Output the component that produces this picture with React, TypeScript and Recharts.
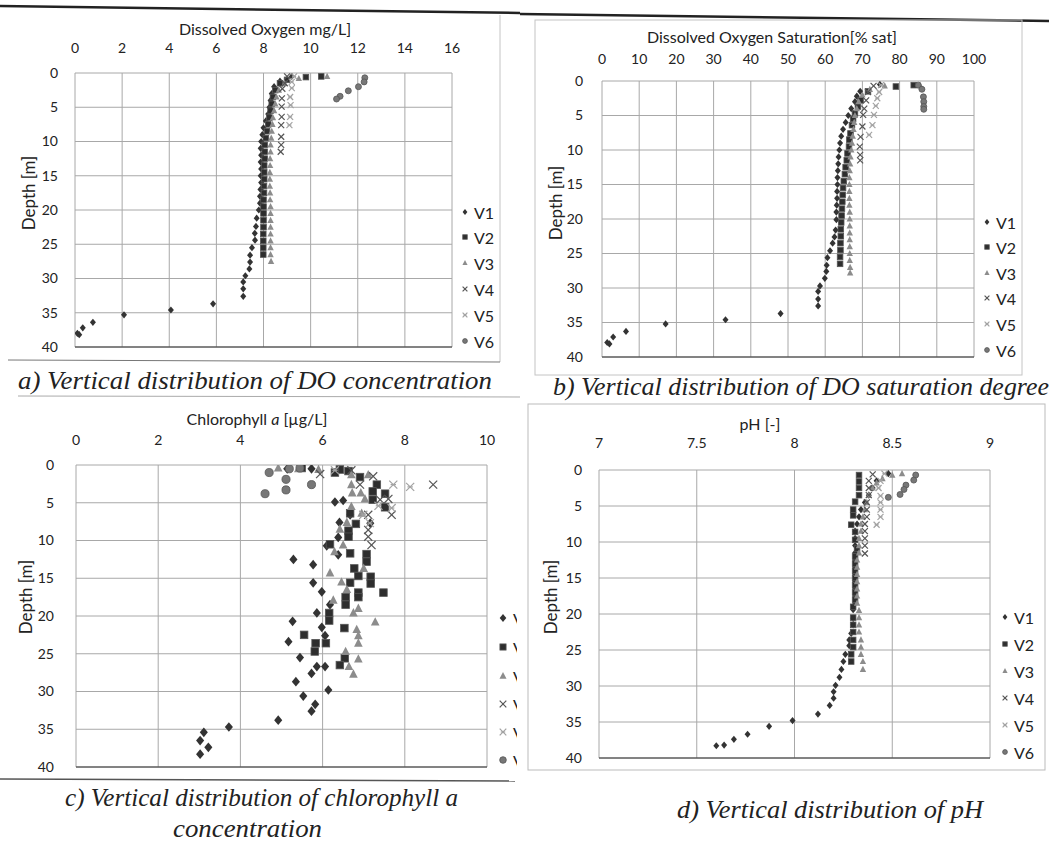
import React from 'react'
import { CartesianGrid, ReferenceLine, Scatter, ScatterChart, XAxis, YAxis } from 'recharts'

// [value, depth]
type Pt = [number, number]

const seriesNames = ['V1', 'V2', 'V3', 'V4', 'V5', 'V6']
const depthTicks = [0, 5, 10, 15, 20, 25, 30, 35, 40]
const doTicks = [0, 2, 4, 6, 8, 10, 12, 14, 16]
const satTicks = [0, 10, 20, 30, 40, 50, 60, 70, 80, 90, 100]
const chlTicks = [0, 2, 4, 6, 8, 10]
const phTicks = [7, 7.5, 8, 8.5, 9]

// a) dissolved oxygen mg/L
const doV1: Pt[] = [[9.2, 0.5], [8.7, 1.2], [8.45, 2], [8.35, 3], [8.3, 4], [8.25, 5], [8.2, 6], [8.1, 7], [8.0, 8], [7.95, 9], [7.9, 10], [7.88, 11], [7.9, 12], [7.88, 13], [7.9, 14], [7.88, 15], [7.9, 16], [7.87, 17], [7.85, 18], [7.85, 19], [7.8, 20], [7.71, 21.2], [7.68, 22.4], [7.63, 23.4], [7.64, 24.4], [7.51, 25.5], [7.43, 26.6], [7.43, 27.6], [7.4, 28.6], [7.23, 29.6], [7.14, 30.5], [7.14, 31.5], [7.14, 32.6], [5.86, 33.7], [4.07, 34.6], [2.08, 35.3], [0.76, 36.4], [0.33, 37.2], [0.1, 38.0], [0.18, 38.2]]
const doV2: Pt[] = [[10.45, 0.5], [9.8, 0.6], [9.0, 1.0], [8.7, 1.5], [8.5, 2.5], [8.4, 3.5], [8.35, 4.5], [8.3, 5.5], [8.25, 6.5], [8.2, 7.5], [8.15, 8.5], [8.1, 9.5], [8.05, 10.5], [8.05, 11.5], [8.05, 12.5], [8.03, 13.5], [8.03, 14.5], [8.03, 15.5], [8.02, 16.5], [8.02, 17.5], [8.0, 18.5], [8.0, 19.5], [8.0, 20.5], [8.0, 21.5], [8.0, 22.5], [7.99, 23.5], [7.99, 24.5], [7.99, 25.5], [7.99, 26.5]]
const doV3: Pt[] = [[10.7, 0.5], [9.5, 0.8], [8.9, 1.5], [8.65, 2.5], [8.55, 3.5], [8.5, 4.5], [8.45, 5.5], [8.4, 6.5], [8.38, 7.5], [8.35, 8.5], [8.33, 9.5], [8.3, 10.5], [8.3, 11.5], [8.28, 12.5], [8.28, 13.5], [8.27, 14.5], [8.27, 15.5], [8.27, 16.5], [8.28, 17.5], [8.28, 18.5], [8.3, 19.5], [8.3, 20.5], [8.3, 21.5], [8.3, 22.5], [8.3, 23.5], [8.3, 24.5], [8.3, 25.5], [8.3, 26.5], [8.32, 27.5]]
const doV4: Pt[] = [[9.0, 0.5], [8.9, 1.5], [8.8, 2.3], [8.78, 3.7], [8.77, 4.9], [8.77, 6.4], [8.75, 7.6], [8.75, 9.3], [8.75, 10.5], [8.73, 11.5]]
const doV5: Pt[] = [[9.3, 0.5], [9.2, 1.3], [9.2, 2.2], [9.13, 3.5], [9.15, 4.7], [9.13, 6.4], [9.1, 7.6]]
const doV6: Pt[] = [[12.3, 0.7], [12.27, 1.3], [12.03, 2.0], [11.6, 2.6], [11.25, 3.4], [11.1, 3.8]]

// b) dissolved oxygen saturation %
const satV1: Pt[] = [[74.7, 0.5], [69.4, 1.5], [68.5, 2.2], [68, 3], [67, 4], [66.2, 5], [65.5, 6], [64.8, 7], [64.3, 8], [64, 9], [63.8, 10], [63.6, 11], [63.5, 12], [63.4, 13], [63.3, 14], [63.3, 15], [63.2, 16], [63.2, 17], [63.1, 18], [63, 19], [63, 20.1], [62.8, 21.6], [62.5, 22.6], [62, 23.5], [61.3, 24.6], [60.6, 25.6], [60.4, 26.7], [60.3, 27.6], [59.9, 28.6], [58.6, 29.7], [58.1, 30.5], [58.1, 31.6], [58.1, 32.6], [48, 33.7], [33.2, 34.6], [17.1, 35.2], [6.45, 36.3], [3.0, 37.1], [1.4, 37.9], [2.0, 38.1]]
const satV2: Pt[] = [[83.8, 0.6], [79, 0.8], [71.5, 1.5], [69.5, 2.8], [68.8, 3.7], [68, 4.7], [67.5, 5.5], [67.2, 6.4], [66.8, 7.6], [66.5, 8.5], [66.4, 9.5], [66, 10.5], [65.8, 11.5], [65.5, 12.5], [65.3, 13.5], [65, 14.5], [64.8, 15.5], [64.7, 16.5], [64.6, 17.5], [64.5, 18.5], [64.4, 19.5], [64.3, 20.5], [64.2, 21.5], [64.2, 22.5], [64.1, 23.5], [64.1, 24.5], [64, 25.5], [64, 26.5]]
const satV3: Pt[] = [[85.5, 0.6], [76, 0.7], [72, 1.2], [70, 2], [69, 3], [68.5, 4], [68, 5], [67.8, 6], [67.6, 7], [67.4, 8], [67.2, 9], [67, 10], [66.8, 11], [66.7, 12], [66.6, 13], [66.5, 14], [66.5, 15], [66.5, 16], [66.5, 17], [66.5, 18], [66.6, 19], [66.6, 20], [66.6, 21], [66.6, 22], [66.6, 23], [66.6, 24], [66.6, 25], [66.6, 26], [66.7, 27], [66.7, 27.8]]
const satV4: Pt[] = [[73, 0.7], [71.5, 1.6], [71, 2.8], [70.5, 4], [70.2, 4.9], [70, 6.6], [69.5, 8.1], [69.3, 9.5], [69.4, 10.7], [69.4, 11.5]]
const satV5: Pt[] = [[75, 0.6], [74.5, 1.6], [74, 2.5], [73.6, 3.6], [73.1, 4.9], [72.7, 6.4], [71.8, 7.8]]
const satV6: Pt[] = [[85, 0.6], [86, 1.2], [86.4, 2.3], [86.5, 3.0], [86.5, 3.7], [86.5, 4.1]]

// c) chlorophyll a µg/L
const chlV1: Pt[] = [[5.14, 0.5], [5.73, 0.5], [6.3, 4.9], [6.5, 4.7], [6.67, 6.6], [7.16, 7.7], [6.41, 7.6], [6.38, 9.6], [6.1, 10.7], [6.38, 11.9], [5.29, 12.5], [5.77, 13.2], [5.77, 15.6], [5.98, 16.8], [6.18, 18.5], [5.86, 19.6], [5.27, 20.7], [5.98, 21.5], [6.06, 22.6], [5.17, 23.4], [5.45, 25.5], [5.86, 26.7], [6.06, 26.7], [5.73, 27.6], [5.35, 28.7], [6.14, 29.8], [5.53, 30.6], [5.82, 31.7], [5.73, 32.6], [4.92, 33.8], [3.72, 34.7], [3.11, 35.4], [3.02, 36.5], [3.22, 37.4], [3.02, 38.3]]
const chlV2: Pt[] = [[5.49, 0.4], [6.42, 0.6], [6.3, 1.0], [6.63, 0.8], [6.91, 1.6], [7.32, 2.6], [7.22, 3.5], [7.52, 3.8], [7.22, 4.6], [7.52, 5.6], [6.67, 6.4], [6.81, 7.8], [6.63, 8.7], [6.63, 9.5], [6.18, 10.5], [6.67, 11.7], [7.07, 11.8], [7.07, 12.8], [6.77, 13.7], [6.87, 14.7], [7.17, 14.8], [7.17, 15.7], [6.67, 15.6], [7.48, 16.9], [6.87, 16.9], [6.56, 17.5], [6.87, 17.5], [6.56, 18.5], [6.16, 19.6], [6.16, 20.6], [6.53, 21.6], [5.55, 22.5], [5.83, 23.6], [6.08, 23.6], [5.81, 24.7], [6.54, 25.6], [6.42, 26.5]]
const chlV3: Pt[] = [[4.92, 0.4], [5.41, 0.5], [5.9, 0.6], [6.7, 1.3], [7.11, 1.3], [6.7, 2.6], [6.72, 3.7], [6.93, 3.7], [7.03, 4.5], [6.7, 5.5], [6.95, 6.4], [6.59, 7.6], [6.42, 8.5], [6.5, 10.6], [6.29, 11.5], [7.0, 13.7], [6.18, 14.3], [6.46, 15.5], [6.59, 16.5], [6.26, 17.9], [6.87, 19.0], [6.75, 19.6], [7.28, 20.8], [6.83, 21.8], [6.87, 22.6], [6.87, 23.6], [6.56, 24.7], [6.87, 25.7], [6.64, 26.7], [6.75, 27.7]]
const chlV4: Pt[] = [[6.7, 0.7], [5.94, 1.2], [7.23, 1.5], [6.91, 2.6], [8.69, 2.6], [7.4, 4.6], [7.6, 4.5], [7.68, 6.6], [7.11, 6.6], [7.11, 8.6], [7.11, 9.5], [7.19, 10.6]]
const chlV5: Pt[] = [[6.3, 0.7], [7.72, 2.6], [8.13, 2.9], [7.36, 5.4], [7.68, 5.7], [6.99, 6.6], [7.15, 7.7]]
const chlV6: Pt[] = [[4.7, 1.0], [5.11, 1.9], [5.11, 3.3], [4.6, 3.8], [5.73, 2.6], [5.19, 0.5], [5.45, 0.4]]

// d) pH
const phV1: Pt[] = [[8.48, 0.5], [8.42, 1.5], [8.4, 2.5], [8.38, 3.5], [8.36, 4.5], [8.34, 5.5], [8.33, 6.5], [8.32, 7.5], [8.31, 8.5], [8.31, 9.5], [8.31, 10.5], [8.31, 11.5], [8.31, 12.5], [8.31, 13.5], [8.31, 14.5], [8.31, 15.5], [8.31, 16.5], [8.31, 17.5], [8.31, 18.5], [8.3, 19.4], [8.3, 20.6], [8.3, 21.5], [8.29, 22.7], [8.28, 23.6], [8.28, 24.4], [8.26, 25.6], [8.25, 26.6], [8.24, 27.7], [8.23, 28.8], [8.21, 29.9], [8.2, 30.8], [8.2, 31.7], [8.18, 32.7], [8.12, 33.9], [7.99, 34.8], [7.87, 35.6], [7.76, 36.7], [7.69, 37.4], [7.64, 38.2], [7.6, 38.3]]
const phV2: Pt[] = [[8.33, 0.7], [8.33, 1.6], [8.33, 2.5], [8.33, 3.5], [8.31, 4.4], [8.3, 5.5], [8.3, 6.3], [8.29, 7.6], [8.31, 8.6], [8.31, 9.7], [8.32, 10.9], [8.31, 12], [8.31, 13], [8.31, 14], [8.31, 15], [8.31, 16], [8.31, 17], [8.31, 18], [8.3, 19], [8.3, 20.5], [8.3, 21.5], [8.3, 22.5], [8.3, 23.6], [8.3, 24.6], [8.29, 25.6], [8.29, 26.6]]
const phV3: Pt[] = [[8.55, 0.5], [8.5, 0.7], [8.45, 1.2], [8.42, 1.8], [8.4, 2.5], [8.38, 3.5], [8.37, 4.5], [8.36, 5.5], [8.35, 6.5], [8.34, 7.5], [8.34, 8.5], [8.33, 9.5], [8.33, 10.5], [8.33, 11.5], [8.32, 12.5], [8.32, 13.5], [8.32, 14.5], [8.32, 15.5], [8.32, 16.5], [8.32, 17.5], [8.32, 18.5], [8.33, 19.5], [8.33, 20.5], [8.33, 21.5], [8.33, 22.5], [8.34, 23.6], [8.34, 24.6], [8.34, 25.6], [8.35, 26.6], [8.35, 27.7]]
const phV4: Pt[] = [[8.4, 0.6], [8.38, 1.5], [8.38, 2.5], [8.38, 3.5], [8.37, 4.5], [8.37, 5.5], [8.37, 6.5], [8.36, 7.5], [8.36, 8.5], [8.36, 9.5], [8.36, 10.5], [8.36, 11.6]]
const phV5: Pt[] = [[8.46, 0.5], [8.44, 1.5], [8.43, 2.5], [8.44, 3.6], [8.44, 4.5], [8.44, 5.5], [8.44, 6.5], [8.42, 7.6]]
const phV6: Pt[] = [[8.62, 0.7], [8.61, 1.4], [8.57, 2.1], [8.56, 2.7], [8.54, 3.4], [8.48, 3.8]]

const markerKinds = ['diamond', 'square', 'triangle', 'cross', 'xlight', 'circle']
const tickFont = 'Lato, "Open Sans", sans-serif'
const captionFont = '"Liberation Serif", "DejaVu Serif", serif'

const toPoints = (arr: Pt[]) => arr.map(([x, y]) => ({ x, y }))

function Marker({ kind, cx, cy, s }: { kind: string; cx: number; cy: number; s: number }) {
  if (cx == null || cy == null) return null
  switch (kind) {
    case 'diamond':
      return <polygon points={`${cx},${cy - 3.6 * s} ${cx + 3 * s},${cy} ${cx},${cy + 3.6 * s} ${cx - 3 * s},${cy}`} fill="#333" />
    case 'square':
      return <rect x={cx - 2.8 * s} y={cy - 2.8 * s} width={5.6 * s} height={5.6 * s} fill="#2e2e2e" stroke="#555" strokeWidth={0.8} />
    case 'triangle':
      return <polygon points={`${cx},${cy - 3.6 * s} ${cx + 3.2 * s},${cy + 2.6 * s} ${cx - 3.2 * s},${cy + 2.6 * s}`} fill="#8c8c8c" />
    case 'cross':
      return (
        <g stroke="#555" strokeWidth={1.2}>
          <line x1={cx - 3 * s} y1={cy - 3 * s} x2={cx + 3 * s} y2={cy + 3 * s} />
          <line x1={cx - 3 * s} y1={cy + 3 * s} x2={cx + 3 * s} y2={cy - 3 * s} />
        </g>
      )
    case 'xlight':
      return (
        <g stroke="#a2a2a2" strokeWidth={1.2}>
          <line x1={cx - 3 * s} y1={cy - 3 * s} x2={cx + 3 * s} y2={cy + 3 * s} />
          <line x1={cx - 3 * s} y1={cy + 3 * s} x2={cx + 3 * s} y2={cy - 3 * s} />
          <line x1={cx - 2 * s} y1={cy} x2={cx + 2 * s} y2={cy} />
        </g>
      )
    default:
      return <circle cx={cx} cy={cy} r={3 * s} fill="#777" stroke="#555" strokeWidth={0.8} />
  }
}

interface PanelProps {
  l: number
  r: number
  t: number
  b: number
  domain: [number, number]
  ticks: number[]
  series: Pt[][]
  xTickMargin: number
  yTickMargin: number
  s: number
}

// plot area is placed at page coords l..r, t..b
const Panel: React.FC<PanelProps> = ({ l, r, t, b, domain, ticks, series, xTickMargin, yTickMargin, s }) => {
  const w = r - l + 70 + 26
  const h = b - t + 60 + 20
  return (
    <div style={{ position: 'absolute', left: l - 70, top: t - 60 }}>
      <ScatterChart width={w} height={h} margin={{ top: 0, left: 0, right: 26, bottom: 20 }}>
        <CartesianGrid stroke="#a8a8a8" />
        <XAxis
          type="number"
          dataKey="x"
          orientation="top"
          domain={domain}
          ticks={ticks}
          interval={0}
          height={60}
          axisLine={false}
          tickLine={false}
          tickSize={0}
          tickMargin={xTickMargin}
          allowDataOverflow
          tick={{ fill: '#222', fontSize: 14, fontFamily: tickFont }}
        />
        <YAxis
          type="number"
          dataKey="y"
          reversed
          domain={[0, 40]}
          ticks={depthTicks}
          interval={0}
          width={70}
          axisLine={false}
          tickLine={false}
          tickSize={0}
          tickMargin={yTickMargin}
          allowDataOverflow
          tick={{ fill: '#222', fontSize: 14, fontFamily: tickFont }}
        />
        <ReferenceLine y={40} stroke="#333" strokeWidth={1.2} />
        {series.map((d, i) => (
          <Scatter
            key={seriesNames[i]}
            name={seriesNames[i]}
            data={toPoints(d)}
            isAnimationActive={false}
            shape={(p: any) => <Marker kind={markerKinds[i]} cx={p.cx} cy={p.cy} s={s} />}
          />
        ))}
      </ScatterChart>
    </div>
  )
}

const LegendBox: React.FC<{ mx: number; tx: number; ys: number[]; s: number; clip?: string }> = ({ mx, tx, ys, s, clip }) => (
  <g>
    {ys.map((y, i) => (
      <g key={seriesNames[i]}>
        <Marker kind={markerKinds[i]} cx={mx} cy={y} s={s} />
        <text x={tx} y={y} dominantBaseline="central" fontSize={16} fontFamily={tickFont} fill="#222" clipPath={clip}>
          {seriesNames[i]}
        </text>
      </g>
    ))}
  </g>
)

const DepthLabel: React.FC<{ x: number; y: number }> = ({ x, y }) => (
  <text transform={`translate(${x},${y}) rotate(-90)`} textAnchor="middle" dominantBaseline="central" fontSize={17} fontFamily={tickFont} fill="#222">
    Depth [m]
  </text>
)

export default function App() {
  return (
    <div style={{ position: 'absolute', left: 0, top: 0, width: 1049, height: 843, background: '#fff', overflow: 'hidden' }}>
      <Panel l={75} r={452} t={73} b={347} domain={[0, 16]} ticks={doTicks} series={[doV1, doV2, doV3, doV4, doV5, doV6]} xTickMargin={20} yTickMargin={17} s={1} />
      <Panel l={602} r={974} t={81} b={357} domain={[0, 100]} ticks={satTicks} series={[satV1, satV2, satV3, satV4, satV5, satV6]} xTickMargin={17} yTickMargin={19} s={1} />
      <Panel l={76} r={487} t={465} b={767} domain={[0, 10]} ticks={chlTicks} series={[chlV1, chlV2, chlV3, chlV4, chlV5, chlV6]} xTickMargin={20} yTickMargin={22} s={1.35} />
      <Panel l={599} r={990} t={470} b={758} domain={[7, 9]} ticks={phTicks} series={[phV1, phV2, phV3, phV4, phV5, phV6]} xTickMargin={22} yTickMargin={17} s={1} />

      <svg width={1049} height={843} style={{ position: 'absolute', left: 0, top: 0, pointerEvents: 'none' }}>
        <defs>
          <clipPath id="legendClipC">
            <rect x={0} y={590} width={517} height={200} />
          </clipPath>
        </defs>
        {/* scan edges and frames */}
        <line x1={0} y1={6} x2={520} y2={13} stroke="#222" strokeWidth={2.5} />
        <line x1={520} y1={14} x2={1049} y2={21} stroke="#222" strokeWidth={2.5} />
        <line x1={500} y1={15} x2={500} y2={362} stroke="#c4c4c4" />
        <line x1={8} y1={360} x2={500} y2={362} stroke="#777" />
        <line x1={18} y1={396} x2={520} y2={397} stroke="#aaa" />
        <rect x={535} y={20} width={487} height={355} fill="none" stroke="#c4c4c4" />
        <line x1={0} y1={779} x2={515} y2={781} stroke="#555" strokeWidth={1.3} />
        <rect x={528} y={404} width={517} height={366} fill="none" stroke="#bbb" />

        {/* axis titles */}
        <text x={265} y={35} textAnchor="middle" fontSize={16} fontFamily={tickFont} fill="#222">Dissolved Oxygen mg/L]</text>
        <text x={772} y={43} textAnchor="middle" fontSize={16} fontFamily={tickFont} fill="#222">Dissolved Oxygen Saturation[% sat]</text>
        <text x={257} y={425} textAnchor="middle" fontSize={16} fontFamily={tickFont} fill="#222">
          Chlorophyll <tspan fontStyle="italic">a</tspan> [µg/L]
        </text>
        <text x={760} y={430} textAnchor="middle" fontSize={16} fontFamily={tickFont} fill="#222">pH [-]</text>
        <DepthLabel x={28} y={193} />
        <DepthLabel x={555} y={203} />
        <DepthLabel x={25} y={597} />
        <DepthLabel x={550} y={597} />

        {/* legends */}
        <LegendBox mx={465} tx={474} ys={[212, 237, 263, 289, 315, 341]} s={0.8} />
        <LegendBox mx={987} tx={996} ys={[222, 247, 273, 298, 324, 350]} s={0.8} />
        <LegendBox mx={503} tx={513} ys={[618, 647, 676, 704, 732, 760]} s={1.1} clip="url(#legendClipC)" />
        <LegendBox mx={1005} tx={1014} ys={[617, 644, 671, 698, 725, 752]} s={0.8} />

        {/* captions */}
        <g fontFamily={captionFont} fontStyle="italic" fill="#222" fontSize={25}>
          <text x={18} y={389} textLength={474} lengthAdjust="spacingAndGlyphs">a) Vertical distribution of DO concentration</text>
          <text x={553} y={395} textLength={496} lengthAdjust="spacingAndGlyphs">b) Vertical distribution of DO saturation degree</text>
          <text x={65} y={806} textLength={393} lengthAdjust="spacingAndGlyphs">c) Vertical distribution of chlorophyll a</text>
          <text x={173} y={837} textLength={149} lengthAdjust="spacingAndGlyphs">concentration</text>
          <text x={677} y={818} textLength={306} lengthAdjust="spacingAndGlyphs">d) Vertical distribution of pH</text>
        </g>
      </svg>
    </div>
  )
}
